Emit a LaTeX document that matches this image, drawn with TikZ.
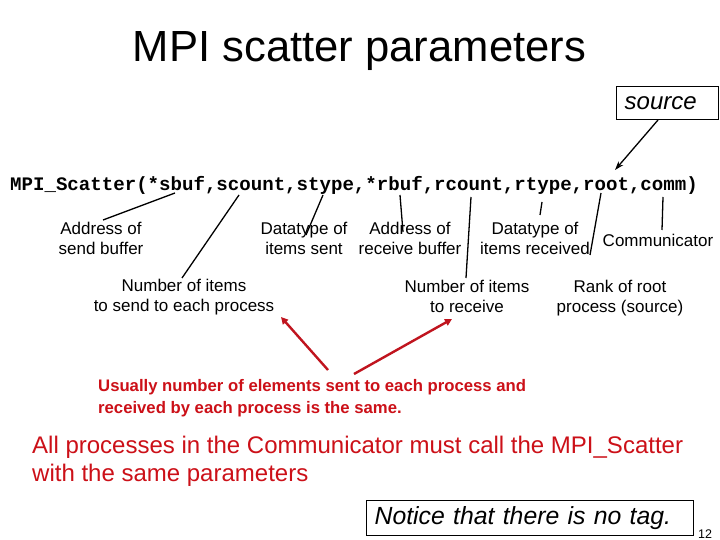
\documentclass[tikz,border=0pt]{standalone}
\usepackage{fontspec}
\setmainfont{Liberation Sans}
\newfontfamily\codefont{Liberation Mono}
\usetikzlibrary{arrows.meta}
\definecolor{redtext}{RGB}{204,16,24}
\definecolor{redline}{RGB}{192,20,30}
\begin{document}
\begin{tikzpicture}[x=1pt,y=-1pt,
  lbl/.style={font=\fontsize{17}{20}\selectfont, align=center, inner sep=0pt, anchor=north},
  conn/.style={draw=black, line width=1.3pt},
  redarrow/.style={draw=redline, line width=2.4pt, -{Triangle[length=7pt,width=7pt]}},
  boxed/.style={draw=black, line width=1.3pt}]
\useasboundingbox (0,0) rectangle (720,540);
\fill[white] (0,0) rectangle (720,540);

% title
\node[font=\fontsize{43.6}{50}\selectfont, anchor=base, inner sep=0pt] (title) at (359.5,62) {MPI scatter parameters};

% source box
\node[boxed, font=\itshape\fontsize{24}{28}\selectfont, minimum width=102pt, minimum height=33pt, inner xsep=8pt, inner ysep=0pt, text width=86pt, align=left, anchor=north west] (source) at (616,86) {source};

% code line
\node[font=\codefont\bfseries\fontsize{19.1}{22}\selectfont, anchor=base west, inner sep=0pt] (code) at (10,191) {MPI\_Scatter(*sbuf,scount,stype,*rbuf,rcount,rtype,root,comm)};

% labels
\node[lbl] (sendbuf) at (101,222) {Address of\\send buffer};
\node[lbl] (stypelbl) at (304,222) {Datatype of\\items sent};
\node[lbl] (recvbuf) at (410,222) {Address of\\receive buffer};
\node[lbl] (rtypelbl) at (535,222) {Datatype of\\items received};
\node[lbl] (commlbl) at (658,234) {Communicator};
\node[lbl] (nsend) at (184,279) {Number of items\\to send to each process};
\node[lbl] (nrecv) at (467,280) {Number of items\\to receive};
\node[lbl] (rootlbl) at (620,280) {Rank of root\\process (source)};

% token points on the code line
\coordinate (sbufpt) at (175,193);
\coordinate (scountpt) at (239,195);
\coordinate (stypept) at (323,195);
\coordinate (rbufpt) at (400,195);
\coordinate (rcountpt) at (471,197);
\coordinate (rtypept) at (542,202);
\coordinate (rootpt) at (601,193);
\coordinate (commpt) at (663,197);
\coordinate (rootarg) at (615,170);
\coordinate (srcfoot) at (658,120);

% free ends of connectors
\coordinate (sbufend) at (103,220);
\coordinate (scountend) at (182,278);
\coordinate (stypeend) at (306,235);
\coordinate (rbufend) at (403,232);
\coordinate (rcountend) at (466,278);
\coordinate (rtypeend) at (540,215);
\coordinate (rootend) at (590,255);
\coordinate (commend) at (662,230);

\draw[conn] (sbufpt) -- (sbufend);
\draw[conn] (scountpt) -- (scountend);
\draw[conn] (stypept) -- (stypeend);
\draw[conn] (rbufpt) -- (rbufend);
\draw[conn] (rcountpt) -- (rcountend);
\draw[conn] (rtypept) -- (rtypeend);
\draw[conn] (rootpt) -- (rootend);
\draw[conn] (commpt) -- (commend);
\draw[conn, -{Stealth[length=9pt,width=6pt]}] (srcfoot) -- (rootarg);

% red note
\node[font=\bfseries\fontsize{16.7}{22}\selectfont, text=redtext, align=left, anchor=north west, inner sep=0pt] (note) at (98,379) {Usually number of elements sent to each process and\\received by each process is the same.};
\coordinate (tipA) at (281,317);
\coordinate (tipB) at (452,319);
\coordinate (startA) at (328,370);
\coordinate (startB) at (354,374);
\draw[redarrow] (startA) -- (tipA);
\draw[redarrow] (startB) -- (tipB);

% bottom text
\node[font=\fontsize{24}{28}\selectfont, text=redtext, align=left, anchor=north west, inner sep=0pt] (allproc) at (32,436) {All processes in the Communicator must call the MPI\_Scatter\\with the same parameters};

\node[boxed, font=\itshape\fontsize{24.8}{28}\selectfont, minimum width=327pt, minimum height=35pt, inner xsep=8pt, inner ysep=0pt, anchor=north west, text width=311pt, align=left] (notag) at (366,500) {Notice that there is no tag.};

\node[font=\fontsize{12.5}{14}\selectfont, anchor=base west, inner sep=0pt] (pagenum) at (698,538) {12};
\end{tikzpicture}
\end{document}
